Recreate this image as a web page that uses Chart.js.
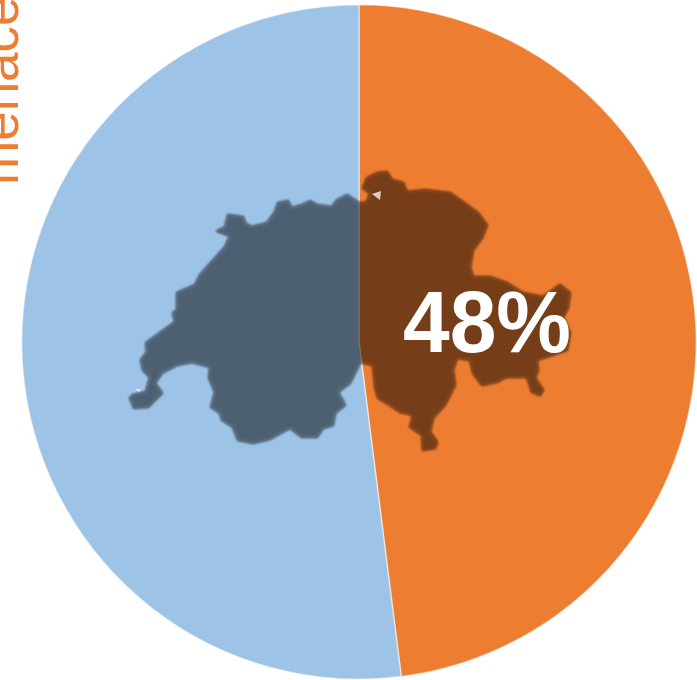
<!DOCTYPE html>
<html lang="en">
<head>
  <meta charset="UTF-8">
  <title>menace</title>
  <script src="https://cdn.jsdelivr.net/npm/chart.js"></script>
  <style>
    html, body { margin: 0; padding: 0; background: white; overflow: hidden; }
    canvas { display: block; }
  </style>
</head>
<body>

<canvas id="pie" width="697" height="680"></canvas>

<script>
  const categories = ['menace', 'other'];
  const values = [48, 52];
  const colors = ['#ED7D31', '#9DC3E6'];
  const sideLabel = 'menace';

  // silhouette of Switzerland, traced in canvas pixels (decoration, not data)
  const swissOutline = [
    [358,202],[347,195],[337,200],[332,207],[317,205],[310,201],[302,205],[292,208],[288,201],[278,203],
    [275,212],[267,223],[252,227],[245,223],[243,217],[228,215],[225,227],[217,231],[230,236],[225,247],
    [215,258],[200,275],[195,285],[177,293],[177,310],[173,313],[175,322],[157,335],[146,343],[147,352],
    [141,360],[143,370],[150,377],[146,392],[133,395],[130,398],[134,408],[148,407],[162,393],[155,383],
    [162,373],[177,365],[192,362],[210,367],[209,378],[215,392],[211,407],[220,413],[222,420],[233,427],
    [238,440],[253,443],[270,439],[290,428],[302,437],[317,437],[323,428],[333,425],[335,413],[345,405],
    [338,392],[350,383],[358,367],[360,362],[373,365],[375,387],[378,398],[393,407],[400,412],[413,415],
    [410,427],[422,435],[423,450],[435,448],[437,442],[430,432],[433,418],[445,405],[455,385],[453,370],
    [457,358],[470,360],[473,373],[482,385],[497,382],[507,377],[527,377],[532,392],[540,395],[543,390],
    [535,378],[538,370],[537,360],[567,350],[570,333],[563,317],[568,308],[570,293],[560,285],[543,297],
    [523,293],[507,283],[490,277],[473,277],[470,267],[473,250],[482,238],[487,225],[478,213],[463,202],
    [450,193],[425,190],[407,192],[403,183],[392,180],[387,172],[377,173],[367,178],[363,188],[370,193],
    [367,202],[360,203]
  ];
  const swissNicks = [
    [[372,194],[381,191],[380,200]],
    [[135,389],[141,389],[139,392]]
  ];

  function tracePoly(ctx, pts) {
    ctx.beginPath();
    pts.forEach((p, i) => i ? ctx.lineTo(p[0], p[1]) : ctx.moveTo(p[0], p[1]));
    ctx.closePath();
  }

  const overlay = {
    id: 'overlay',
    afterDraw(chart) {
      const ctx = chart.ctx;
      ctx.save();

      // fill and stroke on a layer first, so the 50% black does not double up
      const layer = document.createElement('canvas');
      layer.width = chart.width;
      layer.height = chart.height;
      const lctx = layer.getContext('2d');
      lctx.filter = 'blur(0.8px)';
      lctx.lineJoin = 'round';
      lctx.lineWidth = 2.5;
      tracePoly(lctx, swissOutline);
      lctx.fill();
      lctx.stroke();
      ctx.globalAlpha = 0.5;
      ctx.drawImage(layer, 0, 0);
      ctx.globalAlpha = 1;

      ctx.fillStyle = 'rgba(255,240,230,0.8)';
      swissNicks.forEach(n => { tracePoly(ctx, n); ctx.fill(); });

      // percentage on the orange slice
      ctx.fillStyle = 'white';
      ctx.font = 'bold 88px "Liberation Sans", Arial, sans-serif';
      ctx.textAlign = 'left';
      ctx.textBaseline = 'alphabetic';
      ctx.fillText(values[0] + '%', 403, 352, 168);

      // rotated word cut off by the left edge
      ctx.translate(18, 185);
      ctx.rotate(-Math.PI / 2);
      ctx.fillStyle = colors[0];
      ctx.font = '53px "Liberation Sans", Arial, sans-serif';
      ctx.fillText(sideLabel, 0, 0);

      ctx.restore();
    }
  };

  new Chart(document.getElementById('pie').getContext('2d'), {
    type: 'pie',
    data: {
      labels: categories,
      datasets: [{
        data: values,
        backgroundColor: colors,
        borderColor: 'rgba(255,255,255,0.5)',
        borderWidth: 1.5
      }]
    },
    options: {
      responsive: false,
      animation: false,
      layout: { padding: { left: 21, top: 4, right: 0, bottom: 0 } },
      plugins: {
        legend: { display: false },
        tooltip: { enabled: false }
      }
    },
    plugins: [overlay]
  });
</script>

</body>
</html>
